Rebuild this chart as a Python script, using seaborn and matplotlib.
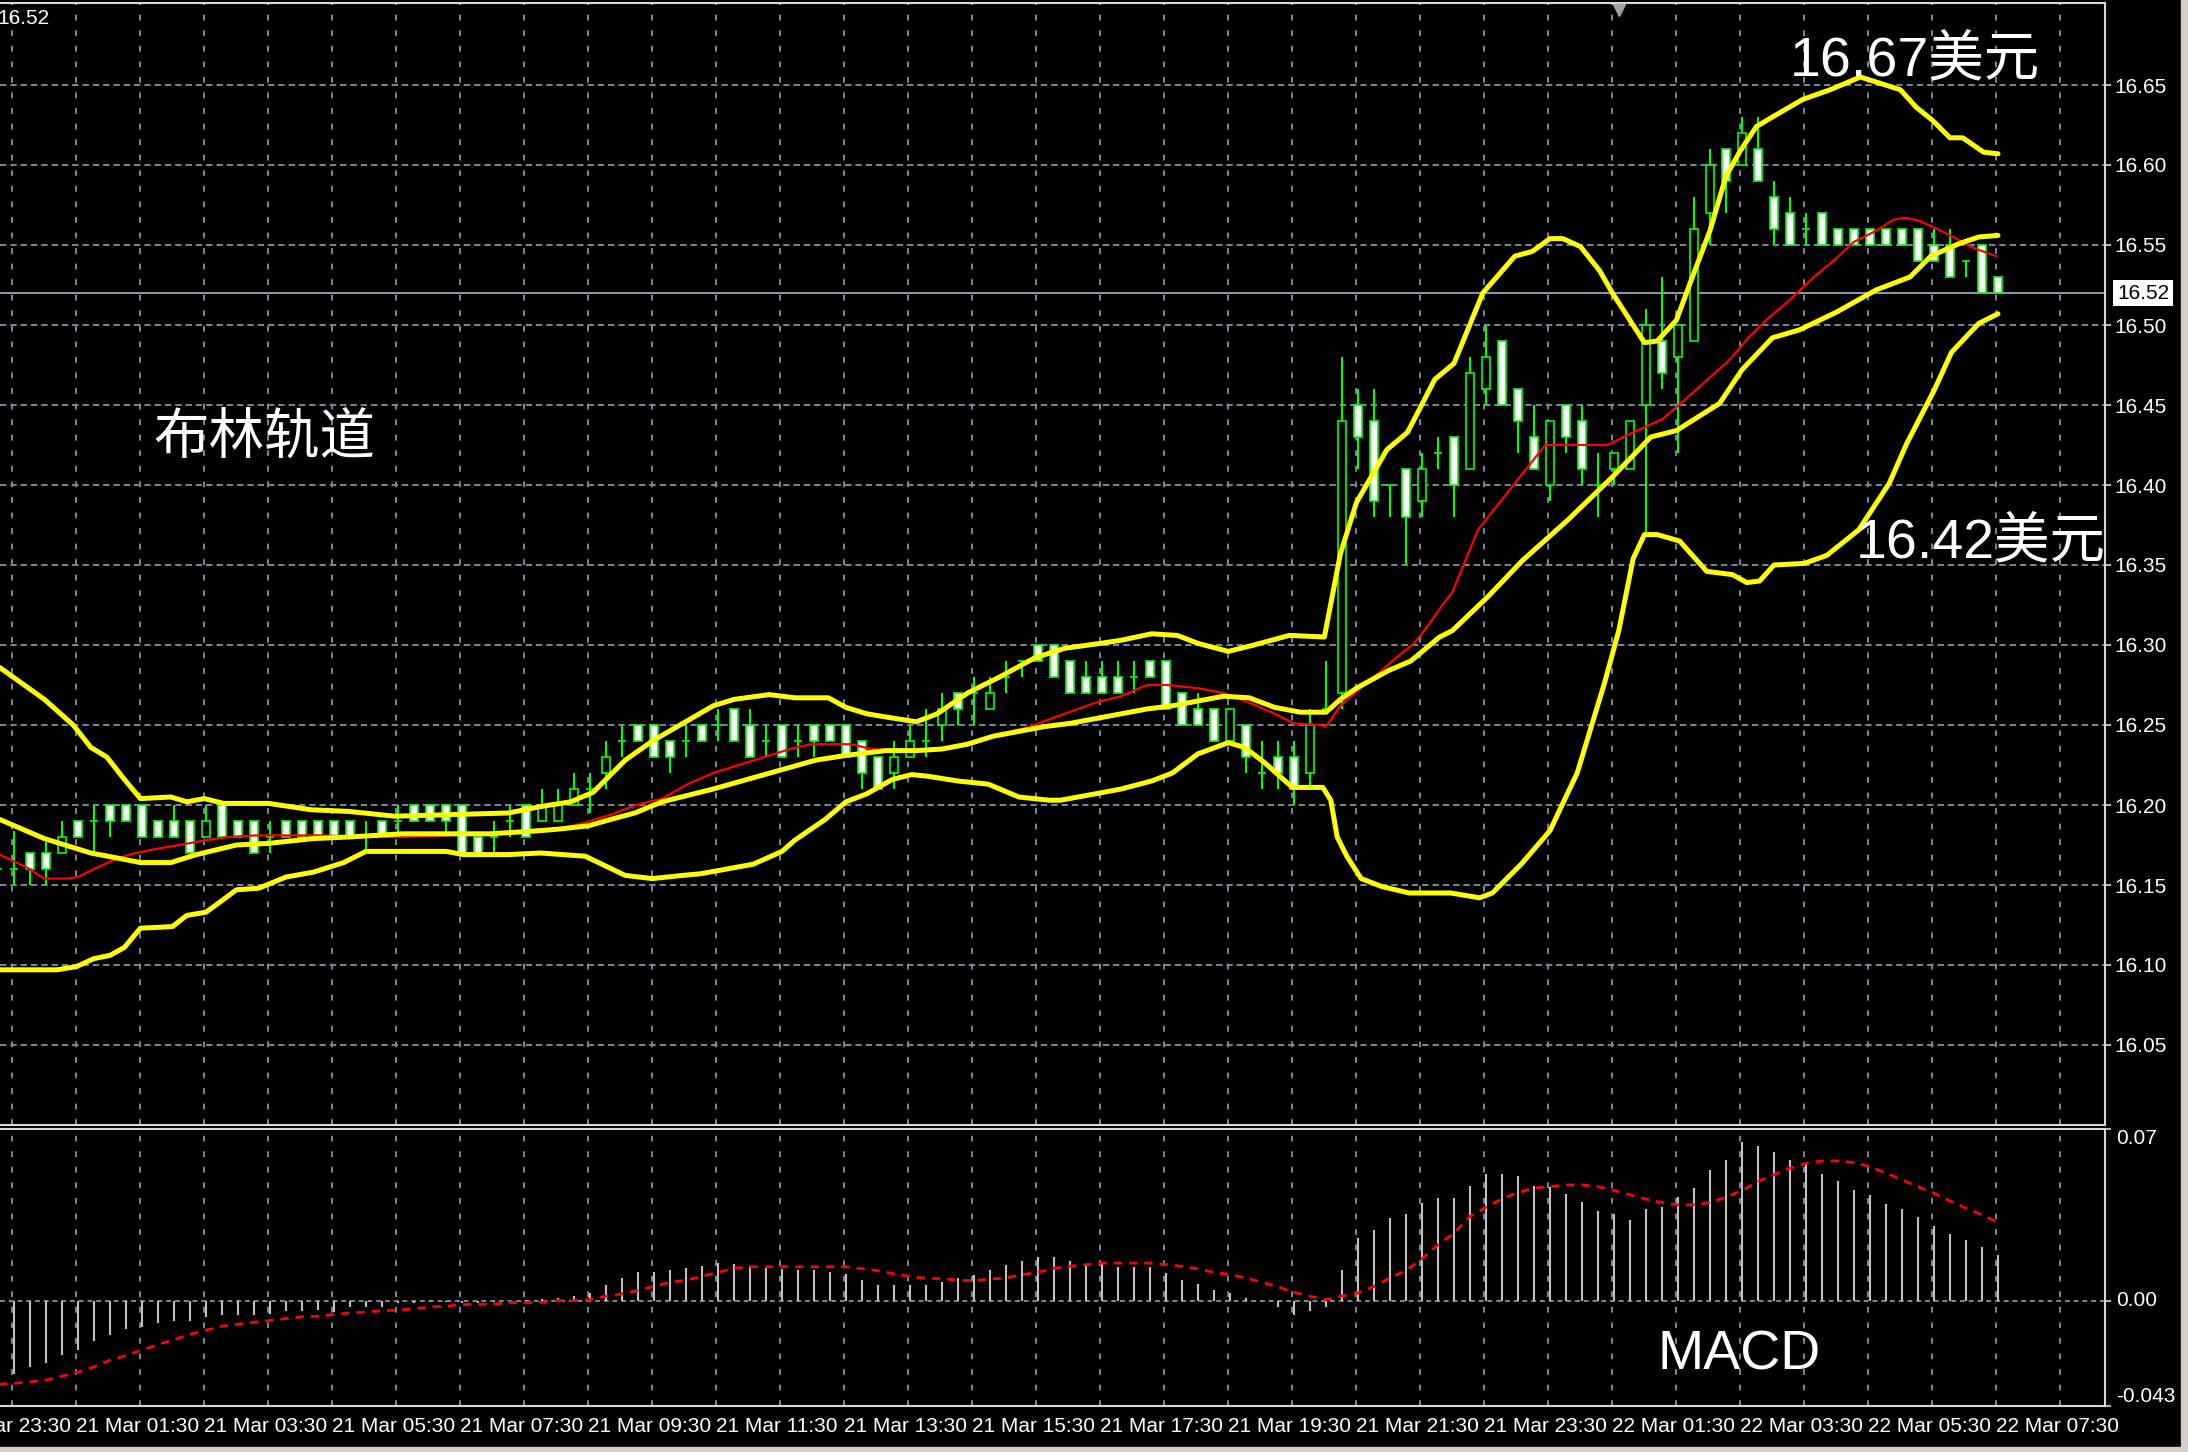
"""
MT4-style 15-minute silver chart: candles with Bollinger bands, plus MACD panel.
"""

import matplotlib

matplotlib.use("Agg")
import matplotlib.pyplot as plt
import matplotlib.transforms as mtransforms
import numpy as np
import pandas as pd
import seaborn as sns

sns.set_theme(style="dark")
plt.rcParams["font.family"] = ["Liberation Sans Narrow", "Liberation Sans", "DejaVu Sans"]

W, H, DPI = 2188, 1452, 100

# ---------------- data ----------------
# 15-minute bars; bar 0 = 21 Mar 00:30, bar 124 = 22 Mar 07:30
first_bar = -1

opens = [
    16.16,
    16.16, 16.17, 16.17, 16.17, 16.19, 16.19, 16.20, 16.20, 16.20, 16.19,
    16.19, 16.19, 16.18, 16.20, 16.19, 16.19, 16.18, 16.19, 16.19, 16.19,
    16.19, 16.19, 16.18, 16.19, 16.19, 16.20, 16.20, 16.20, 16.20, 16.18,
    16.18, 16.19, 16.20, 16.19, 16.19, 16.20, 16.21, 16.22, 16.24, 16.25,
    16.25, 16.24, 16.24, 16.25, 16.25, 16.26, 16.25, 16.24, 16.25, 16.24,
    16.25, 16.25, 16.25, 16.24, 16.23, 16.22, 16.23, 16.24, 16.25, 16.27,
    16.27, 16.26, 16.28, 16.29, 16.30, 16.30, 16.29, 16.28, 16.28, 16.28,
    16.28, 16.29, 16.29, 16.27, 16.26, 16.26, 16.24, 16.25, 16.22, 16.23,
    16.23, 16.22, 16.26, 16.27, 16.45, 16.44, 16.40, 16.41, 16.39, 16.42,
    16.43, 16.41, 16.46, 16.49, 16.46, 16.43, 16.40, 16.45, 16.44, 16.40,
    16.41, 16.41, 16.45, 16.49, 16.48, 16.49, 16.57, 16.61, 16.60, 16.61,
    16.58, 16.57, 16.56, 16.57, 16.56, 16.56, 16.56, 16.56, 16.56, 16.56,
    16.55, 16.55, 16.54, 16.55, 16.53,
]
highs = [
    16.18,
    16.184, 16.17, 16.177, 16.19, 16.19, 16.20, 16.20, 16.20, 16.20, 16.19,
    16.20, 16.19, 16.20, 16.20, 16.19, 16.19, 16.19, 16.19, 16.19, 16.19,
    16.19, 16.19, 16.19, 16.19, 16.20, 16.20, 16.20, 16.20, 16.20, 16.18,
    16.19, 16.20, 16.20, 16.21, 16.21, 16.22, 16.22, 16.24, 16.25, 16.25,
    16.25, 16.24, 16.25, 16.25, 16.26, 16.26, 16.26, 16.25, 16.25, 16.25,
    16.25, 16.25, 16.25, 16.24, 16.23, 16.24, 16.25, 16.26, 16.27, 16.27,
    16.28, 16.28, 16.29, 16.29, 16.30, 16.30, 16.29, 16.29, 16.29, 16.29,
    16.29, 16.29, 16.29, 16.27, 16.27, 16.26, 16.26, 16.25, 16.24, 16.24,
    16.24, 16.26, 16.29, 16.48, 16.46, 16.46, 16.40, 16.41, 16.42, 16.43,
    16.43, 16.48, 16.50, 16.49, 16.46, 16.45, 16.44, 16.45, 16.45, 16.42,
    16.42, 16.44, 16.51, 16.53, 16.50, 16.58, 16.61, 16.61, 16.63, 16.63,
    16.59, 16.58, 16.57, 16.57, 16.56, 16.56, 16.56, 16.56, 16.56, 16.56,
    16.56, 16.56, 16.54, 16.55, 16.53,
]
lows = [
    16.15,
    16.15, 16.15, 16.15, 16.17, 16.18, 16.17, 16.18, 16.19, 16.18, 16.18,
    16.18, 16.17, 16.18, 16.18, 16.18, 16.17, 16.17, 16.18, 16.18, 16.18,
    16.18, 16.18, 16.17, 16.18, 16.18, 16.19, 16.19, 16.18, 16.17, 16.17,
    16.17, 16.18, 16.18, 16.19, 16.19, 16.20, 16.195, 16.21, 16.23, 16.24,
    16.23, 16.22, 16.23, 16.24, 16.24, 16.24, 16.23, 16.23, 16.23, 16.23,
    16.23, 16.24, 16.23, 16.21, 16.21, 16.21, 16.23, 16.23, 16.24, 16.25,
    16.25, 16.26, 16.27, 16.28, 16.29, 16.28, 16.27, 16.27, 16.27, 16.27,
    16.27, 16.28, 16.26, 16.25, 16.25, 16.24, 16.24, 16.22, 16.21, 16.21,
    16.20, 16.21, 16.26, 16.26, 16.41, 16.38, 16.38, 16.35, 16.38, 16.41,
    16.38, 16.41, 16.45, 16.45, 16.42, 16.41, 16.39, 16.42, 16.40, 16.38,
    16.40, 16.41, 16.37, 16.46, 16.42, 16.49, 16.55, 16.57, 16.60, 16.59,
    16.55, 16.55, 16.55, 16.55, 16.55, 16.55, 16.55, 16.55, 16.55, 16.54,
    16.54, 16.53, 16.53, 16.52, 16.52,
]
closes = [
    16.16,
    16.16, 16.16, 16.16, 16.18, 16.18, 16.19, 16.19, 16.19, 16.18, 16.18,
    16.18, 16.17, 16.19, 16.18, 16.18, 16.17, 16.18, 16.18, 16.18, 16.18,
    16.18, 16.18, 16.18, 16.18, 16.19, 16.19, 16.19, 16.19, 16.17, 16.17,
    16.18, 16.19, 16.18, 16.20, 16.20, 16.21, 16.21, 16.23, 16.24, 16.24,
    16.23, 16.23, 16.24, 16.24, 16.25, 16.24, 16.23, 16.24, 16.23, 16.24,
    16.24, 16.24, 16.23, 16.22, 16.21, 16.23, 16.24, 16.24, 16.26, 16.26,
    16.27, 16.27, 16.28, 16.29, 16.29, 16.28, 16.27, 16.27, 16.27, 16.27,
    16.28, 16.28, 16.26, 16.25, 16.25, 16.24, 16.26, 16.23, 16.22, 16.22,
    16.21, 16.25, 16.26, 16.44, 16.43, 16.39, 16.40, 16.38, 16.41, 16.42,
    16.40, 16.47, 16.48, 16.45, 16.44, 16.41, 16.44, 16.43, 16.41, 16.40,
    16.42, 16.44, 16.50, 16.47, 16.50, 16.56, 16.60, 16.59, 16.62, 16.59,
    16.56, 16.55, 16.56, 16.55, 16.55, 16.55, 16.55, 16.55, 16.55, 16.54,
    16.54, 16.53, 16.54, 16.52, 16.52,
]

# Bollinger bands (bar position, price)
upper_x = [-0.9, 1.9, 3.7, 4.8, 5.8, 6.9, 7.9, 9.8, 10.8, 11.9, 13.1, 15.9, 18.6, 20.9,
           23.8, 30.9, 32.9, 34.8, 36.2, 38.2, 39.9, 41.8, 43.7, 45.0, 47.2, 48.8, 50.9,
           52.0, 53.3, 54.5, 56.4, 57.7, 59.6, 61.6, 63.8, 65.7, 67.9, 69.2, 71.1, 72.7,
           74.0, 75.9, 77.5, 79.7, 81.9, 82.9, 83.9, 85.8, 87.1, 88.8, 90.0, 91.8, 93.8,
           94.9, 96.0, 96.8, 97.9, 99.1, 99.9, 101.9, 102.7, 103.9, 104.9, 106.0, 107.0,
           107.9, 108.9, 109.9, 111.8, 113.5, 115.4, 117.9, 118.9, 119.9, 121.0, 121.8,
           123.1, 124.0]
upper_y = [16.286, 16.266, 16.250, 16.236, 16.230, 16.216, 16.204, 16.205, 16.202, 16.204,
           16.201, 16.201, 16.197, 16.196, 16.193, 16.195, 16.199, 16.202, 16.208, 16.228,
           16.240, 16.251, 16.262, 16.266, 16.269, 16.267, 16.267, 16.261, 16.257, 16.255,
           16.252, 16.257, 16.270, 16.280, 16.292, 16.298, 16.301, 16.303, 16.307, 16.306,
           16.301, 16.296, 16.300, 16.306, 16.305, 16.357, 16.389, 16.422, 16.433, 16.466,
           16.476, 16.520, 16.543, 16.546, 16.554, 16.554, 16.549, 16.534, 16.520, 16.489,
           16.490, 16.503, 16.530, 16.559, 16.593, 16.609, 16.624, 16.630, 16.641, 16.647,
           16.655, 16.647, 16.636, 16.628, 16.617, 16.617, 16.608, 16.607]

mid_x = [-0.9, 1.9, 4.8, 6.9, 7.9, 9.8, 11.4, 13.9, 15.9, 18.7, 20.9, 24.3, 29.8, 32.9,
         34.1, 35.9, 37.3, 38.8, 40.5, 43.7, 46.9, 50.1, 52.0, 54.5, 56.4, 58.0, 59.6,
         61.2, 62.8, 64.4, 66.0, 67.6, 69.2, 70.8, 72.4, 75.6, 77.2, 78.8, 80.4, 82.0,
         82.9, 83.9, 85.9, 87.3, 89.1, 89.9, 92.1, 94.3, 97.1, 99.9, 102.3, 103.9, 106.6,
         108.0, 109.9, 111.6, 113.9, 116.4, 118.5, 119.8, 121.6, 122.8, 124.0]
mid_y = [16.191, 16.179, 16.170, 16.166, 16.164, 16.164, 16.169, 16.175, 16.176, 16.179,
         16.180, 16.182, 16.182, 16.184, 16.185, 16.187, 16.191, 16.195, 16.202, 16.210,
         16.219, 16.228, 16.231, 16.234, 16.234, 16.235, 16.238, 16.243, 16.246, 16.249,
         16.251, 16.254, 16.257, 16.260, 16.262, 16.268, 16.267, 16.261, 16.258, 16.258,
         16.266, 16.273, 16.284, 16.290, 16.305, 16.309, 16.330, 16.353, 16.378, 16.405,
         16.430, 16.434, 16.451, 16.472, 16.492, 16.497, 16.508, 16.522, 16.530, 16.543,
         16.551, 16.555, 16.556]

lower_x = [-0.9, 2.7, 3.9, 5.0, 6.0, 6.9, 7.9, 9.9, 10.8, 12.0, 13.1, 13.9, 15.3, 17.0,
           18.7, 20.6, 22.0, 27.0, 28.1, 30.9, 32.9, 35.7, 38.2, 39.9, 41.8, 42.9, 46.2,
           48.0, 48.8, 50.7, 52.0, 53.3, 54.9, 56.1, 57.1, 59.0, 60.9, 62.8, 64.7, 65.4,
           67.6, 69.2, 71.1, 72.4, 74.0, 75.9, 76.9, 78.1, 79.9, 81.8, 82.3, 82.7, 83.3,
           84.2, 85.5, 87.2, 89.8, 91.6, 92.4, 94.2, 96.0, 97.7, 99.4, 100.3, 101.2, 101.9,
           102.7, 104.1, 105.8, 107.4, 108.3, 109.1, 110.0, 111.9, 113.3, 115.3, 117.2,
           118.3, 120.0, 121.1, 122.8, 124.0]
lower_y = [16.097, 16.097, 16.099, 16.104, 16.106, 16.111, 16.123, 16.124, 16.131, 16.133,
           16.141, 16.147, 16.148, 16.155, 16.158, 16.164, 16.171, 16.171, 16.169, 16.169,
           16.170, 16.168, 16.156, 16.154, 16.156, 16.157, 16.163, 16.171, 16.178, 16.191,
           16.202, 16.207, 16.216, 16.219, 16.218, 16.215, 16.213, 16.205, 16.203, 16.203,
           16.207, 16.210, 16.215, 16.220, 16.232, 16.239, 16.236, 16.227, 16.211, 16.211,
           16.203, 16.180, 16.168, 16.154, 16.149, 16.145, 16.145, 16.142, 16.145, 16.163,
           16.184, 16.220, 16.276, 16.309, 16.354, 16.369, 16.369, 16.365, 16.346, 16.344,
           16.339, 16.340, 16.350, 16.351, 16.356, 16.372, 16.401, 16.426, 16.459, 16.483,
           16.501, 16.507]

# red moving average
ma_x = [-0.9, 0.8, 1.9, 3.3, 4.0, 5.0, 6.1, 7.2, 8.6, 10.3, 12.0, 13.4, 15.0, 19.2, 22.3,
        24.3, 32.6, 34.1, 35.7, 37.3, 38.9, 40.5, 42.1, 43.7, 45.3, 46.9, 48.5, 49.8, 52.3,
        53.6, 55.2, 56.4, 58.0, 61.2, 63.5, 65.1, 67.6, 69.2, 70.8, 72.1, 74.0, 75.6, 77.2,
        78.8, 80.0, 81.6, 82.0, 82.9, 83.8, 85.0, 86.5, 87.5, 88.3, 89.2, 89.9, 91.5, 93.8,
        95.7, 97.7, 99.6, 101.0, 103.0, 104.4, 107.2, 108.4, 109.5, 110.8, 112.5, 113.7,
        115.0, 116.4, 117.5, 118.3, 119.1, 120.0, 121.2, 122.5, 123.9]
ma_y = [16.169, 16.161, 16.154, 16.154, 16.155, 16.160, 16.165, 16.169, 16.172, 16.175,
        16.178, 16.180, 16.181, 16.181, 16.180, 16.180, 16.183, 16.185, 16.189, 16.194,
        16.200, 16.204, 16.213, 16.220, 16.225, 16.230, 16.235, 16.238, 16.238, 16.235,
        16.234, 16.234, 16.235, 16.243, 16.249, 16.255, 16.264, 16.268, 16.275, 16.275,
        16.273, 16.270, 16.264, 16.257, 16.251, 16.250, 16.249, 16.262, 16.270, 16.280,
        16.293, 16.301, 16.311, 16.324, 16.333, 16.372, 16.401, 16.425, 16.425, 16.425,
        16.432, 16.441, 16.453, 16.478, 16.492, 16.503, 16.514, 16.530, 16.540, 16.552,
        16.559, 16.566, 16.567, 16.565, 16.561, 16.555, 16.548, 16.543]

# MACD histogram, bars 0..124
macd_hist = [
    -0.0301, -0.0270, -0.0254, -0.0221, -0.0202, -0.0166, -0.0141, -0.0115, -0.0107, -0.0091,
    -0.0084, -0.0084, -0.0066, -0.0060, -0.0060, -0.0060, -0.0054, -0.0043, -0.0043, -0.0037,
    -0.0045, -0.0026, -0.0026, -0.0026, -0.0010, -0.0008, -0.0004, -0.0004, -0.0010, -0.0010,
    -0.0005, 0.0000, 0.0003, 0.0005, 0.0010, 0.0020, 0.0031, 0.0062, 0.0092, 0.0117,
    0.0117, 0.0126, 0.0133, 0.0142, 0.0153, 0.0151, 0.0140, 0.0140, 0.0130, 0.0126,
    0.0126, 0.0117, 0.0110, 0.0085, 0.0062, 0.0062, 0.0062, 0.0062, 0.0076, 0.0092,
    0.0106, 0.0126, 0.0144, 0.0160, 0.0176, 0.0176, 0.0160, 0.0147, 0.0156, 0.0136,
    0.0136, 0.0136, 0.0113, 0.0085, 0.0069, 0.0045, 0.0031, 0.0011, 0.0000, -0.0027,
    -0.0057, -0.0043, -0.0027, 0.0126, 0.0255, 0.0289, 0.0337, 0.0354, 0.0398, 0.0418,
    0.0418, 0.0468, 0.0517, 0.0517, 0.0509, 0.0468, 0.0465, 0.0436, 0.0404, 0.0364,
    0.0354, 0.0330, 0.0373, 0.0381, 0.0422, 0.0459, 0.0533, 0.0574, 0.0645, 0.0631,
    0.0605, 0.0574, 0.0558, 0.0517, 0.0486, 0.0452, 0.0432, 0.0395, 0.0373, 0.0339,
    0.0305, 0.0273, 0.0248, 0.0217, 0.0185,
]
# MACD signal, bars -1..124
macd_signal = [
    -0.0342,
    -0.0337, -0.0332, -0.0324, -0.0308, -0.0292, -0.0270, -0.0243, -0.0224, -0.0202, -0.0179,
    -0.0159, -0.0138, -0.0121, -0.0104, -0.0096, -0.0088, -0.0081, -0.0073, -0.0066, -0.0064,
    -0.0057, -0.0050, -0.0047, -0.0041, -0.0039, -0.0033, -0.0026, -0.0023, -0.0016, -0.0016,
    -0.0014, -0.0008, -0.0008, -0.0007, 0.0000, 0.0000, 0.0004, 0.0018, 0.0027, 0.0042,
    0.0058, 0.0075, 0.0083, 0.0099, 0.0115, 0.0132, 0.0138, 0.0138, 0.0138, 0.0138,
    0.0138, 0.0138, 0.0138, 0.0130, 0.0122, 0.0109, 0.0099, 0.0090, 0.0090, 0.0083,
    0.0081, 0.0088, 0.0092, 0.0106, 0.0115, 0.0132, 0.0140, 0.0147, 0.0153, 0.0153,
    0.0153, 0.0153, 0.0147, 0.0140, 0.0130, 0.0115, 0.0106, 0.0092, 0.0075, 0.0056,
    0.0034, 0.0018, 0.0004, 0.0018, 0.0031, 0.0058, 0.0092, 0.0123, 0.0170, 0.0228,
    0.0275, 0.0343, 0.0381, 0.0415, 0.0441, 0.0459, 0.0465, 0.0472, 0.0472, 0.0465,
    0.0449, 0.0432, 0.0414, 0.0400, 0.0391, 0.0391, 0.0400, 0.0422, 0.0449, 0.0486,
    0.0513, 0.0540, 0.0560, 0.0570, 0.0570, 0.0563, 0.0547, 0.0520, 0.0493, 0.0465,
    0.0438, 0.0407, 0.0377, 0.0350, 0.0319,
]

price_levels = [16.05, 16.10, 16.15, 16.20, 16.25, 16.30, 16.35, 16.40, 16.45, 16.50,
                16.55, 16.60, 16.65]
last_price = 16.52
macd_levels = [0.07, 0.00, -0.043]
macd_level_labels = ["0.07", "0.00", "-0.043"]

time_ticks = [-4, 4, 12, 20, 28, 36, 44, 52, 60, 68, 76, 84, 92, 100, 108, 116, 124]
time_labels = ["20 Mar 23:30", "21 Mar 01:30", "21 Mar 03:30", "21 Mar 05:30",
               "21 Mar 07:30", "21 Mar 09:30", "21 Mar 11:30", "21 Mar 13:30",
               "21 Mar 15:30", "21 Mar 17:30", "21 Mar 19:30", "21 Mar 21:30",
               "21 Mar 23:30", "22 Mar 01:30", "22 Mar 03:30", "22 Mar 05:30",
               "22 Mar 07:30"]

# ---------------- figure ----------------
BG = "black"
GRID = "#778899"
FRAME = "#d8d8d8"
TXT = "white"
CANDLE_EDGE = "#00ff00"
BAND = "#ffff00"


def fx(px):
    return px / W


def fy(py):
    return 1 - py / H


fig = plt.figure(figsize=(W / DPI, H / DPI), dpi=DPI, facecolor=BG)
ax = fig.add_axes([0, fy(1125), fx(2105), (1125 - 3) / H])
ax2 = fig.add_axes([0, fy(1406), fx(2105), (1406 - 1129) / H])

x_left, x_right = -0.875, 130.6875
for a in (ax, ax2):
    a.set_facecolor(BG)
    a.set_xlim(x_left, x_right)
    a.grid(False)
    for side in ("top", "right", "bottom"):
        a.spines[side].set_color(FRAME)
        a.spines[side].set_linewidth(1.5)
    a.spines["left"].set_visible(False)
ax.set_ylim(16.0, 16.70125)
ax2.set_ylim(-0.043, 0.07)

# grid
for xv in np.arange(0, 132, 4) - 0.1:
    for a in (ax, ax2):
        a.axvline(xv, color=GRID, lw=1.4, ls=(0, (3, 5)), zorder=0)
for yv in price_levels:
    ax.axhline(yv, color=GRID, lw=1.4, ls=(0, (3.3, 2)), zorder=0)
ax2.axhline(0, color=GRID, lw=1.4, ls=(0, (2.5, 2)), zorder=0)

# current price line
ax.axhline(last_price, color="#8a9aaa", lw=1.4, zorder=1)

# candles
bars = pd.DataFrame({"o": opens, "h": highs, "l": lows, "c": closes})
bars["x"] = np.arange(first_bar, first_bar + len(bars))
ax.vlines(bars["x"], bars["l"], bars["h"], color=CANDLE_EDGE, lw=1.5, zorder=3)
body_lo = bars[["o", "c"]].min(axis=1)
body_hi = bars[["o", "c"]].max(axis=1)
fills = np.where(bars["c"] < bars["o"], "white", "black")
ax.bar(bars["x"], body_hi - body_lo, bottom=body_lo, width=0.52, color=fills,
       edgecolor=CANDLE_EDGE, linewidth=1.2, zorder=4)

# indicator lines
sns.lineplot(x=ma_x, y=ma_y, ax=ax, color="#ff0000", lw=1.6, zorder=5)
for bx, by in ((upper_x, upper_y), (mid_x, mid_y), (lower_x, lower_y)):
    sns.lineplot(x=bx, y=by, ax=ax, color=BAND, lw=3.6, zorder=6)

# price axis on the right
ax.yaxis.tick_right()
ax.set_yticks(price_levels, [f"{v:.2f}" for v in price_levels])
ax.tick_params(axis="y", colors=FRAME, labelcolor=TXT, length=4, width=1.2,
               labelsize=15, pad=3)
ax.tick_params(axis="x", bottom=False, labelbottom=False)
ax.set_xlabel("")
ax.set_ylabel("")
ax.text(2117 / 2105, last_price, f"{last_price:.2f}", color="black", fontsize=15,
        ha="left", va="center",
        transform=mtransforms.blended_transform_factory(ax.transAxes, ax.transData),
        bbox=dict(boxstyle="square,pad=0.18", facecolor="white", edgecolor="none"))

# chart shift marker at the top
ax.plot([100.3], [0.994], marker="v", ms=8, color="#a0a0a0", clip_on=False, zorder=7,
        transform=mtransforms.blended_transform_factory(ax.transData, ax.transAxes))

# MACD panel
hist_x = np.arange(0, len(macd_hist))
ax2.vlines(hist_x, 0, macd_hist, color="#c0c0c0", lw=1.5, zorder=3)
sig_x = np.arange(first_bar, first_bar + len(macd_signal))
sns.lineplot(x=sig_x, y=macd_signal, ax=ax2, color="#ff0000", lw=2.0,
             linestyle=(0, (3, 2.5)), zorder=4)
ax2.yaxis.tick_right()
ax2.set_yticks(macd_levels, ["", "", ""])
ax2.tick_params(axis="y", colors=FRAME, length=4, width=1.2)
ax2.set_xlabel("")
ax2.set_ylabel("")
trans_y2 = mtransforms.blended_transform_factory(ax2.transAxes, ax2.transData)
for val, lab, va in zip(macd_levels, macd_level_labels, ["top", "center", "bottom"]):
    ax2.text(2116 / 2105, val, lab, color=TXT, fontsize=15, ha="left", va=va,
             transform=trans_y2)

in_range = [t for t in time_ticks if x_left <= t <= x_right]
ax2.set_xticks(in_range)
ax2.tick_params(axis="x", colors=FRAME, length=4, width=1.2, labelbottom=False)
trans_x2 = mtransforms.blended_transform_factory(ax2.transData, fig.transFigure)
for t, lab in zip(time_ticks, time_labels):
    ax2.text(t - 0.1, fy(1427), lab, color=TXT, fontsize=15, ha="left", va="center",
             transform=trans_x2, clip_on=False)

# text annotations
big = dict(color="white", fontsize=40, ha="left", va="center",
           family=["Liberation Sans", "Noto Sans CJK SC"])
fig.text(fx(1790), fy(61), "16.67美元", **big)
fig.text(fx(1856), fy(543), "16.42美元", **big)
fig.text(fx(153), fy(440), "布林轨道", **big)
fig.text(fx(1658), fy(1355), "MACD", **big)
fig.text(fx(-3), fy(19), "16.52", color=TXT, fontsize=15, ha="left", va="center")

# window frame strips (right edge and bottom edge)
fig.patches.append(plt.Rectangle((fx(2181), 0), fx(7), 1, transform=fig.transFigure,
                                 color="#d4d0c8", zorder=0))
fig.patches.append(plt.Rectangle((0, 0), 1, 5 / H, transform=fig.transFigure,
                                 color="#d4d0c8", zorder=0))

fig.savefig("out.png", dpi=DPI, facecolor=BG)
